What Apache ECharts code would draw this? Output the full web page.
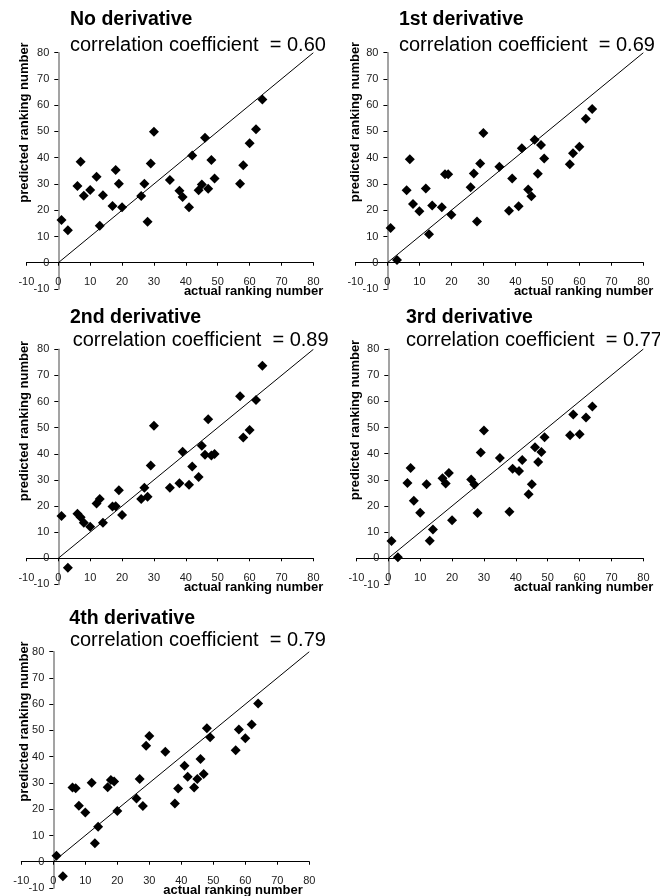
<!DOCTYPE html>
<html><head><meta charset="utf-8">
<script src="https://cdn.jsdelivr.net/npm/echarts@6/dist/echarts.min.js"></script>
<style>html,body{margin:0;padding:0;background:#fff}#c{width:660px;height:896px}</style>
</head><body><div id="c"></div>
<script>
// ---- data ----
const actualRank = [1,3,6,7,8,10,12,13,14,17,18,19,20,26,27,28,29,30,35,38,39,41,42,44,45,46,47,48,49,57,58,60,62,64];
const predNoDeriv = [16.3,12.4,29.2,38.5,25.5,27.7,32.8,14.1,25.7,21.6,35.3,30.1,21.1,25.4,30.1,15.6,37.8,49.9,31.5,27.4,25.0,21.1,40.8,27.6,29.8,47.6,28.2,39.1,32.1,30.1,37.1,45.5,50.8,62.2];
const pred1stDeriv = [13.2,1.0,27.6,39.4,22.4,19.6,28.3,10.9,21.8,21.1,33.7,33.7,18.3,28.8,34.0,15.7,37.8,49.4,36.6,19.8,32.1,21.5,43.6,27.9,25.3,46.8,33.9,44.8,39.7,37.5,41.7,44.2,54.8,58.6];
const pred2ndDeriv = [16.2,-3.6,17.0,15.7,13.6,12.1,21.0,22.7,13.6,19.8,19.9,26.0,16.6,22.7,27.0,23.6,35.5,50.7,27.0,28.7,40.8,28.1,35.1,31.1,43.1,39.6,53.2,39.3,39.9,62.0,46.2,49.1,60.6,73.7];
const pred3rdDeriv = [6.6,0.4,28.8,34.5,22.0,17.4,28.3,6.7,11.0,30.6,28.6,32.6,14.6,30.1,28.2,17.3,40.4,48.9,38.3,17.8,34.2,33.4,37.6,24.5,28.3,42.5,36.8,40.6,46.3,47.0,55.0,47.4,53.8,58.0];
const pred4thDeriv = [2.3,-5.5,28.3,28.0,21.3,18.8,30.1,7.0,13.3,28.4,31.1,30.6,19.3,24.1,31.5,21.2,44.2,47.9,41.9,22.2,27.9,36.6,32.4,28.3,31.5,39.1,33.4,50.8,47.4,42.5,50.4,47.0,52.3,60.3];
const panelNames = ['No derivative','1st derivative','2nd derivative','3rd derivative','4th derivative'];
const corrValues = ['0.60','0.69','0.89','0.77','0.79'];
const axisMin = -10, axisMax = 80, axisStep = 10;
const diagonal = [0, 80];
const xAxisTitle = 'actual ranking number';
const yAxisTitle = 'predicted ranking number';

// ---- layout (pixels) ----
const grids = [
  {left:26.4, top:52.7, width:287, height:236.3},
  {left:355.4, top:52.7, width:288, height:236.3},
  {left:26.4, top:349.3, width:287, height:235.1},
  {left:356.4, top:349.0, width:287, height:235.5},
  {left:21.3, top:651.7, width:288, height:236.3}
];
const titlePos = [[70,20.7,70,46.7],[399,20.7,399,46.7],[70,319.5,72.7,341.7],[406,319.5,406,341.7],[69.3,620.5,70,641.5]];
const yTitlePos = [[24,122.5],[355,122],[24,421],[355,420],[24,721.5]];
const xTitlePos = [[323.3,291.7],[653.3,291.7],[323.3,587.5],[653.3,587.5],[302.7,890]];

const predSets = [predNoDeriv, pred1stDeriv, pred2ndDeriv, pred3rdDeriv, pred4thDeriv];
const FONT = '"Liberation Sans", Arial, sans-serif';
const zeroFrac = (0 - axisMin) / (axisMax - axisMin);

const option = {animation:false, grid:[], xAxis:[], yAxis:[], series:[], graphic:[]};
predSets.forEach((ys, i) => {
  const g = grids[i];
  option.grid.push(Object.assign({containLabel:false}, g));
  // axes cross at 0: shift each axis inward by the (0 - min) span
  option.xAxis.push({
    type:'value', gridIndex:i, min:axisMin, max:axisMax, interval:axisStep,
    position:'bottom', offset: -g.height * zeroFrac,
    splitLine:{show:false},
    axisLine:{show:true, onZero:false, lineStyle:{color:'#000', width:1}},
    axisTick:{show:true, length:3, lineStyle:{color:'#000'}},
    axisLabel:{show:true, showMinLabel:true, showMaxLabel:true, margin:14, fontSize:11, color:'#1a1a1a', fontFamily:FONT}
  });
  option.yAxis.push({
    type:'value', gridIndex:i, min:axisMin, max:axisMax, interval:axisStep,
    position:'left', offset: -g.width * zeroFrac,
    splitLine:{show:false},
    axisLine:{show:true, onZero:false, lineStyle:{color:'#858585', width:1.5}},
    axisTick:{show:true, length:4, lineStyle:{color:'#000'}},
    axisLabel:{show:true, showMinLabel:true, showMaxLabel:true, margin:9, fontSize:11, color:'#1a1a1a', fontFamily:FONT}
  });
  option.series.push({
    type:'line', xAxisIndex:i, yAxisIndex:i, silent:true, symbol:'none',
    data:[[diagonal[0],diagonal[0]],[diagonal[1],diagonal[1]]],
    lineStyle:{color:'#000', width:1}, z:2
  });
  option.series.push({
    type:'scatter', xAxisIndex:i, yAxisIndex:i, symbol:'diamond', symbolSize:10,
    data: actualRank.map((x, k) => [x, ys[k]]),
    itemStyle:{color:'#000', opacity:1}, z:3
  });
  const tp = titlePos[i];
  option.graphic.push({type:'text', left:tp[0], top:tp[1]-11.5, style:{text:panelNames[i], font:'bold 19.5px ' + FONT, fill:'#000'}});
  option.graphic.push({type:'text', left:tp[2], top:tp[3]-11.5, style:{text:'correlation coefficient  = ' + corrValues[i], font:'20px ' + FONT, fill:'#000'}});
  const yp = yTitlePos[i];
  option.graphic.push({type:'text', x:yp[0], y:yp[1], rotation:Math.PI/2,
    style:{text:yAxisTitle, font:'bold 13px ' + FONT, fill:'#000', align:'center', verticalAlign:'middle', textAlign:'center', textVerticalAlign:'middle'}});
  const xp = xTitlePos[i];
  option.graphic.push({type:'text', x:xp[0], y:xp[1],
    style:{text:xAxisTitle, font:'bold 13px ' + FONT, fill:'#000', align:'right', verticalAlign:'middle', textAlign:'right', textVerticalAlign:'middle'}});
});

const chart = echarts.init(document.getElementById('c'));
chart.setOption(option);
</script>
</body></html>
